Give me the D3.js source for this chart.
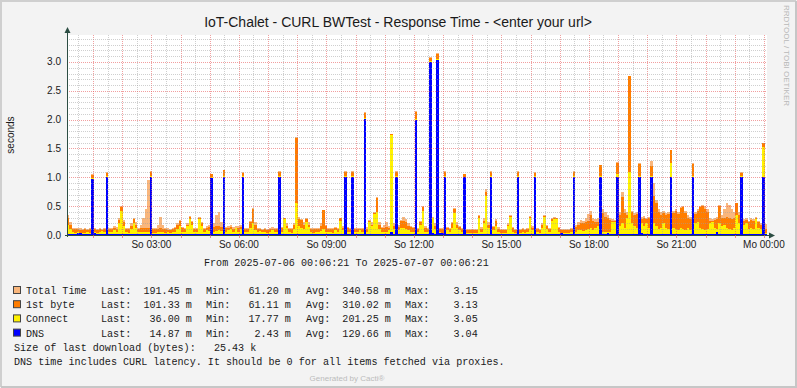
<!DOCTYPE html>
<html>
<head>
<meta charset="utf-8">
<script src="https://cdn.jsdelivr.net/npm/d3@7"></script>
<style>
body{margin:0;background:#f3f3f3}
svg{display:block}
text{font-family:"Liberation Sans",Arial,sans-serif;fill:#1a1a1a}
.mono{font-family:"Liberation Mono","DejaVu Sans Mono",monospace;font-size:10.1px}
</style>
</head>
<body>
<svg id="graph1"></svg>
<script>
// 5 minute samples, 2025-07-06 00:06:21 .. 2025-07-07 00:06:21 (seconds)
var totalTime = [
 .35,.22,.13,.12,.13,.12,.11,.12,.11,.12,1.05,.12,
 .11,.13,.11,.12,1.09,.12,.12,.16,.14,.30,.50,.26,
 .13,.12,.20,.29,.22,.12,.18,.30,.45,.95,1.11,.12,
 .12,.18,.31,.18,.12,.12,.11,.12,.14,.20,.26,.14,
 .12,.20,.33,.25,.12,.13,.32,.22,.13,.16,.18,1.06,
 .20,.35,.40,.22,1.13,.14,.16,.18,.14,.15,.16,.17,
 1.09,.12,.13,.25,.46,.22,.12,.13,.11,.12,.11,.12,
 .14,.12,.12,1.11,.14,.30,.20,.12,.12,.20,1.70,.32,
 .28,.22,.30,.22,.12,.12,.13,.12,.20,.44,.18,.12,
 .13,.12,.14,.13,.30,.16,1.11,.14,.13,1.11,.13,.12,
 .13,.12,2.13,.14,.26,.22,.40,.66,.22,.14,.18,.22,
 .16,1.76,.20,1.11,.18,.26,.32,.28,.20,.16,.14,2.15,
 .13,.25,.50,.16,.12,3.08,.32,.20,3.15,.12,.12,1.11,
 .14,.12,.22,.46,.22,.16,.12,1.05,.11,.10,.11,.10,
 .11,.35,.14,.30,.80,.22,1.11,.16,.28,.14,.11,.10,
 .11,.20,.35,.14,.11,1.11,.11,.12,.11,.12,.33,.16,
 1.09,.12,.11,.20,.35,.18,.12,.30,.31,.30,.14,.11,
 .10,.10,.11,.13,1.11,.18,.22,.26,.24,.30,.36,.42,
 .30,.28,.30,1.22,.45,.40,.35,.30,.28,.26,1.26,.40,
 .75,.45,.40,2.76,.42,.38,.40,1.24,.32,.33,.30,.32,
 1.28,.90,.60,.45,.40,.42,.38,.40,1.48,.42,.45,.40,
 .48,.50,.42,.35,.32,1.24,.40,.45,.50,.52,.50,.45,
 .30,.28,.30,.32,.52,.35,.45,.55,.52,.45,.40,.56,
 .40,1.09,.28,.30,.25,.30,.28,.32,.25,.20,1.60,.19
]
var firstByte = [
 .30,.18,.11,.10,.10,.09,.08,.10,.09,.10,1.04,.10,
 .09,.10,.09,.10,1.08,.10,.10,.12,.11,.26,.49,.22,
 .10,.10,.16,.28,.18,.10,.12,.12,.12,.13,1.10,.10,
 .10,.11,.13,.11,.10,.09,.09,.10,.12,.18,.25,.12,
 .10,.18,.31,.22,.10,.11,.30,.20,.11,.13,.14,1.05,
 .14,.15,.16,.14,1.12,.12,.13,.14,.11,.12,.13,.14,
 1.08,.10,.11,.22,.45,.18,.10,.11,.09,.10,.09,.10,
 .11,.10,.10,1.10,.12,.29,.16,.10,.10,.18,1.68,.28,
 .26,.18,.28,.18,.10,.10,.11,.10,.15,.43,.15,.10,
 .11,.10,.12,.11,.29,.13,1.10,.12,.11,1.10,.11,.10,
 .11,.10,2.12,.11,.24,.18,.38,.65,.18,.12,.12,.14,
 .12,1.75,.15,1.10,.14,.24,.25,.22,.16,.14,.12,2.14,
 .11,.22,.49,.13,.10,3.07,.30,.16,3.13,.10,.10,1.10,
 .12,.10,.20,.45,.18,.14,.10,1.05,.09,.08,.09,.08,
 .09,.33,.11,.25,.75,.18,1.10,.14,.25,.11,.09,.08,
 .09,.18,.33,.12,.09,1.10,.09,.10,.09,.10,.32,.13,
 1.08,.10,.09,.18,.33,.15,.10,.28,.30,.29,.12,.09,
 .08,.08,.09,.10,1.10,.14,.18,.20,.20,.22,.25,.35,
 .25,.23,.22,1.21,.38,.32,.30,.26,.25,.24,1.25,.35,
 .66,.38,.35,2.75,.40,.35,.36,1.23,.28,.30,.28,.29,
 1.20,.68,.55,.40,.35,.38,.34,.36,1.47,.38,.42,.36,
 .46,.48,.38,.30,.28,1.23,.36,.42,.48,.50,.45,.40,
 .25,.24,.26,.28,.50,.30,.30,.32,.30,.28,.30,.55,
 .35,1.08,.24,.26,.22,.26,.25,.30,.22,.17,1.60,.10
]
var connectTime = [
 .18,.10,.05,.04,.05,.04,.03,.04,.05,.04,.99,.05,
 .04,.06,.07,.05,1.02,.05,.06,.08,.06,.20,.42,.15,
 .05,.04,.10,.20,.12,.05,.05,.06,.05,.06,1.02,.04,
 .04,.05,.06,.05,.04,.05,.04,.05,.06,.10,.15,.06,
 .05,.15,.28,.18,.05,.06,.28,.15,.06,.08,.07,1.00,
 .06,.07,.08,.07,1.02,.05,.08,.10,.05,.12,.06,.10,
 1.02,.05,.06,.12,.20,.08,.05,.07,.05,.06,.04,.06,
 .08,.05,.05,1.02,.06,.27,.12,.05,.04,.10,.56,.15,
 .12,.10,.22,.14,.05,.04,.06,.05,.07,.10,.06,.05,
 .05,.04,.08,.05,.25,.08,1.02,.06,.05,1.02,.06,.05,
 .08,.05,2.03,.06,.22,.15,.36,.40,.10,.06,.06,.06,
 .08,1.73,.10,1.02,.08,.12,.12,.10,.08,.06,.05,2.02,
 .05,.18,.42,.06,.05,3.02,.30,.10,3.05,.05,.04,1.02,
 .08,.06,.12,.38,.12,.08,.05,1.00,.04,.03,.03,.03,
 .04,.30,.06,.20,.68,.12,1.02,.08,.15,.06,.04,.03,
 .04,.15,.31,.06,.04,1.02,.04,.05,.04,.05,.30,.08,
 1.02,.05,.04,.12,.31,.10,.05,.25,.28,.27,.06,.04,
 .03,.03,.04,.05,1.02,.06,.08,.08,.07,.08,.10,.12,
 .08,.12,.16,1.03,.06,.05,.05,.06,.23,.22,1.05,.15,
 .20,.12,.30,1.10,.20,.15,.12,1.03,.20,.15,.20,.12,
 1.02,.20,.15,.10,.12,.20,.12,.10,1.25,.12,.10,.08,
 .12,.10,.08,.12,.08,1.03,.20,.22,.12,.10,.08,.10,
 .20,.22,.12,.10,.20,.15,.18,.12,.10,.08,.12,.35,
 .20,1.02,.18,.20,.10,.12,.10,.27,.12,.10,1.53,.04
]
var dnsTime = [
 .02,.02,.01,.02,.03,.03,.02,.01,.01,.02,.97,.03,
 .01,.01,.02,.02,1.00,.02,.01,.01,.01,.01,.02,.01,
 .01,.01,.01,.01,.01,.01,.01,.02,.01,.02,1.00,.02,
 .01,.01,.01,.01,.01,.02,.02,.01,.01,.01,.01,.01,
 .01,.01,.01,.01,.01,.01,.01,.01,.01,.01,.01,.98,
 .01,.01,.02,.01,1.00,.01,.01,.01,.02,.01,.01,.01,
 1.00,.01,.01,.01,.01,.01,.01,.01,.02,.02,.01,.01,
 .01,.02,.01,1.00,.01,.01,.01,.01,.01,.01,.01,.01,
 .01,.01,.01,.01,.01,.01,.01,.02,.01,.01,.01,.01,
 .01,.01,.01,.01,.01,.01,1.00,.02,.01,1.00,.02,.02,
 .01,.02,2.01,.02,.01,.01,.01,.01,.01,.01,.01,.01,
 .02,.05,.02,1.00,.01,.01,.01,.01,.01,.01,.02,2.00,
 .01,.01,.01,.01,.02,3.00,.03,.02,3.04,.03,.03,1.00,
 .01,.01,.01,.01,.01,.01,.01,1.00,.02,.01,.01,.01,
 .01,.01,.01,.01,.01,.01,1.00,.01,.01,.01,.01,.01,
 .01,.01,.01,.01,.01,1.00,.01,.01,.02,.01,.01,.01,
 1.00,.01,.01,.01,.01,.01,.01,.01,.01,.01,.01,.03,
 .02,.01,.01,.01,1.00,.01,.01,.01,.01,.01,.01,.01,
 .01,.01,.01,1.00,.01,.02,.04,.02,.01,.01,1.00,.01,
 .01,.01,.01,.01,.01,.01,.01,1.00,.03,.01,.01,.01,
 1.00,.01,.01,.01,.01,.01,.01,.01,1.00,.01,.01,.01,
 .01,.01,.01,.01,.01,1.00,.01,.01,.01,.01,.01,.01,
 .01,.02,.01,.05,.02,.01,.01,.01,.01,.01,.01,.01,
 .01,1.00,.01,.01,.01,.01,.01,.01,.01,.01,1.00,.015
]

var seriesNames = ["Total Time", "1st byte", "Connect", "DNS"]
var seriesColors = ["#F9B67C", "#FF7D00", "#FFF200", "#0000FF"]
var lastVals = ["191.45 m", "101.33 m", "36.00 m", "14.87 m"]
var minVals = ["61.20 m", "61.11 m", "17.77 m", "2.43 m"]
var avgVals = ["340.58 m", "310.02 m", "201.25 m", "129.66 m"]
var maxVals = ["3.15", "3.13", "3.05", "3.04"]
var dayNames = ["So", "Mo", "Di", "Mi", "Do", "Fr", "Sa"]

var startTime = new Date(2025, 6, 6, 0, 6, 21)
var endTime = new Date(2025, 6, 7, 0, 6, 21)
var stepSeconds = 300

var screen = {width:797, height:388}
var margins = {top:35, left:67}
var plot = {width:700, height:200}

var svg = d3.select("#graph1")
    .attr("width", screen.width)
    .attr("height", screen.height)

// frame
svg.append("rect").attr("x",0).attr("y",0).attr("width",screen.width).attr("height",screen.height).attr("fill","#f3f3f3")
svg.append("path").attr("d","M1,387V1H796").attr("fill","none").attr("stroke","#cfcfcf").attr("stroke-width",2)
svg.append("path").attr("d","M796,1V387H1").attr("fill","none").attr("stroke","#c6c6c6").attr("stroke-width",2)

var xScale = d3.scaleTime()
    .domain([startTime, endTime])
    .range([margins.left, margins.left + plot.width])
var yScale = d3.scaleLinear()
    .domain([0, 3.468])
    .range([margins.top + plot.height, margins.top])

var x0 = margins.left, x1 = margins.left + plot.width
var y0 = margins.top + plot.height, y1 = margins.top

svg.append("rect").attr("x",x0).attr("y",y1).attr("width",plot.width).attr("height",plot.height).attr("fill","#ffffff")

var timeAt = function(i){ return new Date(startTime.getTime() + i*stepSeconds*1000) }

var area = d3.area()
    .x(function(d){ return xScale(d.t) })
    .y0(y0)
    .y1(function(d){ return yScale(d.v) })
    .curve(d3.curveStepAfter)

var allSeries = [totalTime, firstByte, connectTime, dnsTime]
allSeries.forEach(function(vals, k){
    var pts = vals.map(function(v, i){ return {t:timeAt(i), v:v} })
    pts.push({t:endTime, v:vals[vals.length-1]})
    svg.append("path")
        .datum(pts)
        .attr("d", area)
        .attr("fill", seriesColors[k])
        .attr("shape-rendering","crispEdges")
})

// grid (rrdtool paints it over the areas)
var minorColor = "rgba(160,160,160,0.5)"
var majorColor = "rgba(230,80,80,0.55)"
var grid = svg.append("g").attr("shape-rendering","crispEdges")
var minorT = d3.timeMinute.every(30).range(startTime, endTime)
minorT.forEach(function(t){
    var isHour = t.getMinutes() == 0
    var x = Math.round(xScale(t)) + 0.5
    grid.append("line").attr("x1",x).attr("x2",x).attr("y1",y1).attr("y2",y0)
        .attr("stroke", isHour ? majorColor : minorColor)
        .attr("stroke-dasharray","1,1")
})
d3.range(1, 35).forEach(function(k){
    var v = k/10
    var y = Math.round(yScale(v)) + 0.5
    grid.append("line").attr("x1",x0).attr("x2",x1).attr("y1",y).attr("y2",y)
        .attr("stroke", k % 5 == 0 ? majorColor : minorColor)
        .attr("stroke-dasharray","1,1")
})

// axes
var axisColor = "#2c4d43"
svg.append("line").attr("x1",x0+0.5).attr("x2",x0+0.5).attr("y1",y0+2).attr("y2",y1-3).attr("stroke",axisColor)
svg.append("line").attr("x1",x0-2).attr("x2",x1+2).attr("y1",y0+0.5).attr("y2",y0+0.5).attr("stroke",axisColor)
svg.append("path").attr("d","M"+(x0-2.5)+","+(y1-2)+"L"+(x0+3.5)+","+(y1-2)+"L"+(x0+0.5)+","+(y1-8)+"Z").attr("fill",axisColor)
svg.append("path").attr("d","M"+(x1+2)+","+(y0-2.5)+"L"+(x1+2)+","+(y0+3.5)+"L"+(x1+8)+","+(y0+0.5)+"Z").attr("fill",axisColor)

d3.timeHour.every(1).range(startTime, endTime).forEach(function(t){
    var x = Math.round(xScale(t)) + 0.5
    svg.append("line").attr("x1",x).attr("x2",x).attr("y1",y0).attr("y2",y0+3).attr("stroke","rgba(222,100,100,0.7)")
})

var fmtTime = d3.timeFormat("%H:%M")
d3.timeHour.every(3).range(startTime, endTime).forEach(function(t){
    svg.append("text")
        .attr("x", xScale(t))
        .attr("y", 248)
        .attr("text-anchor","middle")
        .style("font-size","10px")
        .text(dayNames[t.getDay()] + " " + fmtTime(t))
})
d3.range(0, 7).forEach(function(k){
    var v = k*0.5
    svg.append("text")
        .attr("x", 61)
        .attr("y", yScale(v) + 3.5)
        .attr("text-anchor","end")
        .style("font-size","10px")
        .text(d3.format(".1f")(v))
})

// labels
svg.append("text").attr("x",398).attr("y",27).attr("text-anchor","middle").style("font-size","14px")
    .text("IoT-Chalet - CURL BWTest - Response Time - <enter your url>")
svg.append("text").attr("transform","translate(14,135) rotate(-90)").attr("text-anchor","middle").style("font-size","10px")
    .text("seconds")
svg.append("text").attr("transform","translate(784,5) rotate(90)").style("font-size","8px").style("fill","#b8b8b8")
    .text("RRDTOOL / TOBI OETIKER")
svg.append("text").attr("x",347).attr("y",381).attr("text-anchor","middle").style("font-size","8px").style("fill","#bcbcbc")
    .text("Generated by Cacti\u00AE")

// legend
svg.append("text").attr("class","mono").attr("x",204).attr("y",265.5)
    .text("From 2025-07-06 00:06:21 To 2025-07-07 00:06:21")
var pad = function(s, n){ return s.padStart(n, " ") }
seriesNames.forEach(function(name, k){
    var yb = 294 + k*14.2
    svg.append("rect").attr("x",13.5).attr("y",yb-7.5).attr("width",7).attr("height",7)
        .attr("fill",seriesColors[k]).attr("stroke","#444")
    var row = svg.append("text").attr("class","mono").attr("y",yb).style("white-space","pre")
    row.append("tspan").attr("x",26).text(name)
    row.append("tspan").attr("x",101).text("Last:" + pad(lastVals[k], 10))
    row.append("tspan").attr("x",206).text("Min:" + pad(minVals[k], 10))
    row.append("tspan").attr("x",306).text("Avg:" + pad(avgVals[k], 10))
    row.append("tspan").attr("x",405).text("Max:" + pad(maxVals[k], 8))
})
svg.append("text").attr("class","mono").attr("x",14).attr("y",350.5).style("white-space","pre")
    .text("Size of last download (bytes):   25.43 k")
svg.append("text").attr("class","mono").attr("x",14).attr("y",364.5)
    .text("DNS time includes CURL latency. It should be 0 for all items fetched via proxies.")
</script>
</body>
</html>
